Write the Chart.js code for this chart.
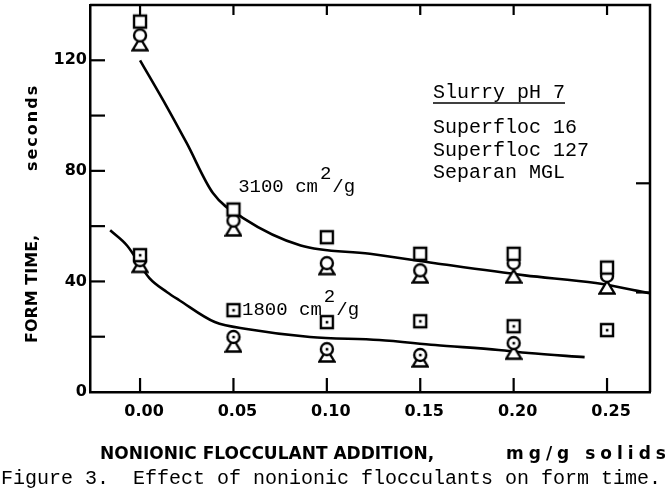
<!DOCTYPE html>
<html>
<head>
<meta charset="utf-8">
<style>
html,body{margin:0;padding:0;background:#fff;}
</style>
<script src="https://cdn.jsdelivr.net/npm/chart.js@4.4.1/dist/chart.umd.min.js"></script>
</head>
<body>
<canvas id="chart" width="669" height="493"></canvas>
<script>

/* DATA */

const doses = [0.00, 0.05, 0.10, 0.15, 0.20, 0.25];
const xTickLabels = ["0.00", "0.05", "0.10", "0.15", "0.20", "0.25"];
const yTicks = [0, 40, 80, 120];
const yMinorTicks = [20, 60, 100];

// 3100 cm2/g slurry
const sf16Fine  = [134, 66, 56, 50, 50, 45];
const sf127Fine = [129, 62, 46.6, 44, 46.6, 42];
const mglFine   = [126, 59, 45, 42, 42, 38];

// 1800 cm2/g slurry
const sf16Coarse  = [49.5, 29.6, 25.3, 25.6, 23.8, 22.4];
const sf127Coarse = [47.7, 19.9, 15.5, 13.4, 17.7, null];
const mglCoarse   = [45.8, 17, 13.4, 11.6, 14.4, null];

// hand drawn trend curves
const fineCurveX = [0.0, 0.0145, 0.025, 0.039, 0.055, 0.086, 0.123, 0.158, 0.206, 0.244, 0.273];
const fineCurveY = [120, 103, 90, 72, 63, 53, 50, 46.6, 42.2, 39.4, 35.7];
const coarseCurveX = [-0.016, -0.007, 0.005, 0.0145, 0.021, 0.040, 0.058, 0.091, 0.128, 0.158, 0.192, 0.208, 0.238];
const coarseCurveY = [58.5, 53, 41.2, 36.1, 33.2, 25.3, 22.7, 19.9, 18.8, 17.0, 15.2, 14.1, 12.6];

const legendLines = ["Superfloc 16", "Superfloc 127", "Separan MGL"];


/* MARKERS */

function makeMarker(kind, dot) {
  const c = document.createElement("canvas");
  c.width = 18;
  c.height = 18;
  const g = c.getContext("2d");
  g.fillStyle = "#fff";
  g.strokeStyle = "#000";
  g.lineWidth = 2.4;
  g.beginPath();
  if (kind === "square") g.rect(3, 3, 12, 12);
  else if (kind === "circle") g.arc(9, 9, 6, 0, Math.PI * 2);
  else { g.moveTo(9, 3); g.lineTo(16.5, 15.5); g.lineTo(1.5, 15.5); g.closePath(); }
  g.fill();
  g.stroke();
  if (dot) {
    g.fillStyle = "#000";
    g.fillRect(7.8, 7.8, 2.6, 2.6);
  }
  return c;
}

function points(xs, ys) {
  return xs.map((x, i) => ({ x: x, y: ys[i] })).filter(p => p.y !== null);
}

function markerSet(ys, style, order) {
  return {
    data: points(doses, ys),
    pointStyle: style,
    pointRadius: 9,
    showLine: false,
    order: order
  };
}

function curveSet(xs, ys) {
  return {
    data: points(xs, ys),
    showLine: true,
    pointRadius: 0,
    borderColor: "#000",
    borderWidth: 2.6,
    cubicInterpolationMode: "monotone",
    order: 10
  };
}


/* DECORATION: box, inward ticks, texts */

const decor = {
  id: "decor",
  beforeDatasetsDraw(chart) {
    const { ctx, chartArea: a, scales: { x, y } } = chart;
    ctx.save();
    ctx.strokeStyle = "#000";
    ctx.lineWidth = 2.5;
    ctx.beginPath();
    ctx.moveTo(a.left, a.top);
    ctx.lineTo(a.right, a.top);
    ctx.lineTo(a.right, a.bottom);
    ctx.stroke();

    ctx.lineWidth = 2.2;
    yTicks.concat(yMinorTicks).forEach(v => {
      if (v === 0) return;
      const py = y.getPixelForValue(v);
      ctx.beginPath();
      ctx.moveTo(a.left, py);
      ctx.lineTo(a.left + 15, py);
      ctx.stroke();
    });
    [36, 75.5].forEach(v => {
      const py = y.getPixelForValue(v);
      ctx.beginPath();
      ctx.moveTo(a.right, py);
      ctx.lineTo(a.right - 14, py);
      ctx.stroke();
    });
    doses.forEach(v => {
      const px = x.getPixelForValue(v);
      ctx.beginPath();
      ctx.moveTo(px, a.bottom);
      ctx.lineTo(px, a.bottom - 14);
      ctx.moveTo(px, a.top);
      ctx.lineTo(px, a.top + 10);
      ctx.stroke();
    });
    ctx.restore();
  },
  afterDraw(chart) {
    const { ctx, scales: { x, y } } = chart;
    ctx.save();
    ctx.fillStyle = "#000";
    ctx.textBaseline = "alphabetic";

    // area labels
    ctx.font = "19px 'Liberation Mono'";
    function areaLabel(num, xv, yv) {
      let px = x.getPixelForValue(xv);
      const py = y.getPixelForValue(yv);
      const first = num + " cm";
      ctx.fillText(first, px, py);
      px += ctx.measureText(first).width + 2;
      ctx.fillText("2", px, py - 13);
      px += ctx.measureText("2").width + 1;
      ctx.fillText("/g", px, py);
    }
    areaLabel("3100", 0.0525, 72.2);
    areaLabel("1800", 0.0546, 27.8);

    // legend block
    ctx.font = "20px 'Liberation Mono'";
    const lx = 433;
    ctx.fillText("Slurry pH 7", lx, 98);
    const w = ctx.measureText("Slurry pH 7").width;
    ctx.lineWidth = 1.6;
    ctx.beginPath();
    ctx.moveTo(lx, 103);
    ctx.lineTo(lx + w, 103);
    ctx.stroke();
    legendLines.forEach((t, i) => ctx.fillText(t, lx, 133 + i * 22.5));

    // axis titles
    ctx.font = "bold 17px 'DejaVu Sans'";
    ctx.fillText("NONIONIC FLOCCULANT ADDITION,", 100, 459);
    ctx.letterSpacing = "5px";
    ctx.fillText("mg/g solids", 506, 459);
    ctx.letterSpacing = "0px";

    ctx.save();
    ctx.translate(37, 343);
    ctx.rotate(-Math.PI / 2);
    ctx.font = "bold 16px 'DejaVu Sans'";
    ctx.fillText("FORM TIME,", 0, 0);
    ctx.letterSpacing = "2px";
    ctx.fillText("seconds", 172, 0);
    ctx.restore();

    // caption
    ctx.letterSpacing = "0px";
    ctx.font = "20px 'Liberation Mono'";
    ctx.fillText("Figure 3.  Effect of nonionic flocculants on form time.", 1, 484);
    ctx.restore();
  }
};


/* CHART */

const tickFont = { family: "DejaVu Sans", weight: "bold", size: 16 };

new Chart(document.getElementById("chart"), {
  type: "scatter",
  data: {
    datasets: [
      markerSet(sf16Fine, makeMarker("square", false), 1),
      markerSet(sf127Fine, makeMarker("circle", false), 2),
      markerSet(mglFine, makeMarker("triangle", false), 3),
      markerSet(sf16Coarse, makeMarker("square", true), 1),
      markerSet(sf127Coarse, makeMarker("circle", true), 2),
      markerSet(mglCoarse, makeMarker("triangle", false), 3),
      curveSet(fineCurveX, fineCurveY),
      curveSet(coarseCurveX, coarseCurveY)
    ]
  },
  options: {
    responsive: false,
    animation: false,
    devicePixelRatio: 1,
    layout: { autoPadding: false, padding: { left: 0, right: 19, top: 5, bottom: 0 } },
    plugins: {
      legend: { display: false },
      tooltip: { enabled: false }
    },
    scales: {
      x: {
        type: "linear",
        min: -0.0268,
        max: 0.273,
        afterFit: s => {
          s.height = 101;
          s.paddingLeft = 0;
          s.paddingRight = 0;
        },
        afterBuildTicks: s => { s.ticks = doses.map(v => ({ value: v })); },
        grid: { display: false, drawTicks: false },
        border: { display: true, color: "#000", width: 2.5 },
        ticks: {
          callback: (v, i) => xTickLabels[i],
          font: tickFont,
          color: "#000",
          padding: 10,
          labelOffset: 4,
          maxRotation: 0,
          autoSkip: false
        }
      },
      y: {
        min: 0,
        max: 140,
        afterFit: s => {
          s.width = 90;
          s.paddingTop = 0;
          s.paddingBottom = 0;
        },
        afterBuildTicks: s => { s.ticks = yTicks.map(v => ({ value: v })); },
        grid: { display: false, drawTicks: false },
        border: { display: true, color: "#000", width: 2.5 },
        ticks: {
          font: tickFont,
          color: "#000",
          padding: 3
        }
      }
    }
  },
  plugins: [decor]
});

</script>
</body>
</html>
